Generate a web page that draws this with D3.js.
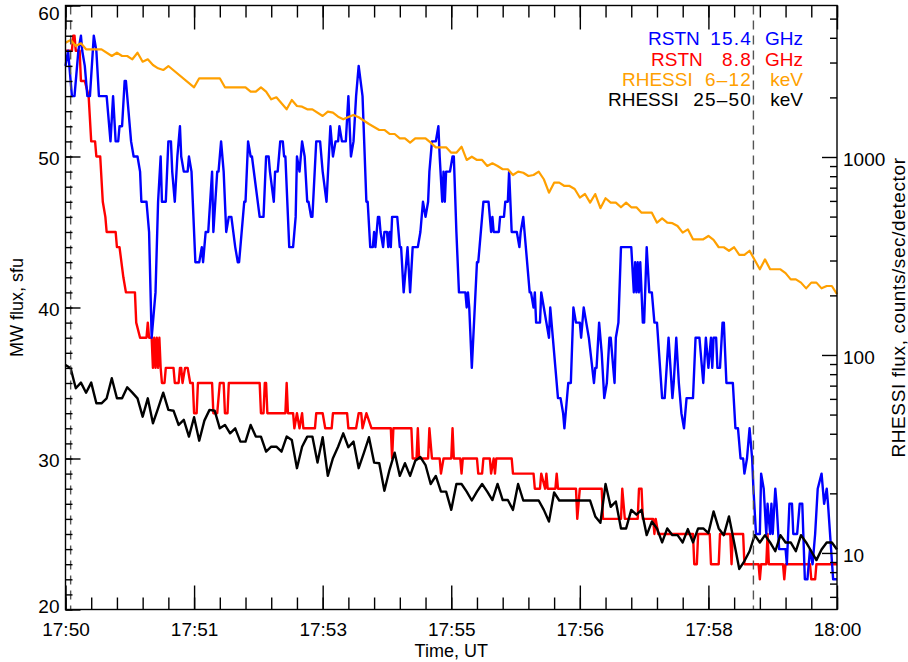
<!DOCTYPE html>
<html>
<head>
<meta charset="utf-8">
<script src="https://cdn.jsdelivr.net/npm/d3@7"></script>
<style>
  html, body { margin: 0; padding: 0; background: #fff; }
  text { font-family: "Liberation Sans", Arial, sans-serif; font-size: 19px; fill: #000; }
</style>
</head>
<body>
<svg id="chart" width="908" height="662"></svg>
<script>
// ---- Data: times are seconds after 17:50:00 UT ----

// RSTN 15.4 GHz (sfu)
const rstn154Time = [0,2,3,5,7,10,12,13,15,17,19,22,24,26,32,35,37,39,41,42,44,46,47,48,51,53,56,58,59,63,65,67,70,72,74,75,78,80,82,83,85,87,89,90,92,95,96,98,101,104,106,107,108,109,111,114,115,118,119,121,123,125,127,129,132,134,135,139,140,142,144,145,151,154,156,158,159,162,163,165,167,169,170,171,174,177,179,180,182,184,186,188,189,191,192,195,198,200,203,206,208,210,212,213,215,218,220,222,224,226,228,231,234,235,237,239,240,241,243,244,245,247,248,250,251,252,253,254,258,260,261,263,266,268,270,274,276,278,280,282,283,285,288,290,291,293,294,295,296,299,301,302,304,306,311,312,313,314,316,320,321,325,329,331,332,333,337,338,341,342,344,345,347,351,353,354,356,357,361,362,364,365,366,369,370,372,374,376,377,379,381,383,385,387,388,391,393,395,397,400,401,403,405,407,411,412,413,415,417,419,421,423,424,426,427,428,430,432,440,442,443,444,445,446,447,449,450,452,454,456,458,460,464,466,469,472,473,475,477,479,481,483,488,490,493,496,498,500,502,503,504,506,507,509,511,512,514,519,521,523,525,527,528,530,532,534,535,537,540,541,543,545,546,548,549,550,552,553,555,560,561,563,565,566,569,571,573,575,577,579,581,583,585,588,590,592,593,597,600];
const rstn154Flux = [56,57,56,54,54,57,58,57,56,54,54,58,57,54,54,51,54,51,51,52,52,55,55,54,51,50,50,49,47,47,45,38,41,47,50,47,47,51,51,49,47,50,52,50,49,49,50,49,43,43,44,43,44,45,45,49,45,49,49,51,49,45,46,46,44,43,43,47,47,51,50,50,46,46,50,50,49,47,49,49,51,51,50,50,44,44,46,50,49,51,50,47,47,46,46,51,51,49,47,52,50,51,51,52,51,51,54,50,51,54,56,54,47,47,44,44,45,44,46,46,45,44,45,45,44,45,44,46,46,44,44,41,44,41,44,44,45,47,46,47,49,51,51,52,50,47,49,47,49,49,50,50,45,41,41,40,41,40,36,43,43,47,47,45,46,45,45,46,46,47,47,49,45,45,44,45,46,45,41,41,40,41,39,39,41,40,39,38,40,38,36,34,34,33,32,35,35,40,39,39,38,40,39,38,35,36,36,39,37,34,35,38,38,36,35,38,39,44,44,41,43,41,43,41,43,39,39,44,41,41,39,39,34,34,38,34,35,38,35,33,32,34,34,38,38,35,38,36,38,36,38,38,36,36,39,39,35,35,32,32,30,30,29,30,32,30,28,25,25,29,28,25,27,25,27,25,28,27,24,24,23,27,27,25,25,27,27,22,22,24,23,25,28,29,27,28,27,22,22];

// RSTN 8.8 GHz (sfu)
const rstn88Time = [0,5,6,7,8,11,12,15,18,20,23,24,27,29,31,32,39,40,42,45,47,54,55,58,63,64,65,67,68,69,70,71,72,73,74,75,77,78,84,85,88,89,90,91,93,95,97,99,100,102,103,114,115,118,120,123,124,126,127,151,152,154,155,156,157,171,172,173,177,178,180,182,184,185,194,195,200,202,207,208,219,220,226,228,230,231,234,238,253,254,255,269,270,273,274,275,282,283,285,291,292,294,300,301,302,307,308,309,320,321,324,325,330,331,333,334,335,347,348,364,365,369,370,373,374,375,381,382,383,397,398,400,417,418,432,433,435,445,446,448,449,457,458,459,461,488,489,491,492,501,502,508,509,517,518,519,527,528,539,540,541,545,546,547,558,559,560,579,580,583,584,600];
const rstn88Flux = [57,57,58,58,57,57,55,55,54,51,51,50,50,47,46,45,45,44,44,42,41,41,39,38,38,39,38,38,36,38,36,38,36,38,36,35,35,36,36,35,35,36,36,35,36,36,35,35,33,33,35,35,33,33,35,35,33,33,35,35,33,33,35,35,33,33,35,33,33,32,33,32,33,32,32,33,33,32,32,33,33,32,32,33,33,32,33,32,32,30,32,32,30,30,32,30,30,32,30,30,29,30,30,32,30,30,29,30,30,29,29,30,30,29,30,29,30,30,29,29,28,28,29,28,29,28,28,29,28,28,26,28,28,26,26,28,26,26,28,28,26,26,25,26,25,25,23,23,25,25,23,23,25,25,23,25,25,23,23,22,23,23,25,23,23,22,23,23,22,22,23,23];

// RHESSI 6-12 keV (counts/sec/detector), 4 s bins; turning points only
const rhessiLoTime = [0,4,8,12,16,28,36,40,44,48,52,56,60,64,68,72,76,80,100,104,120,124,140,144,148,152,156,160,164,172,176,180,184,188,192,200,204,208,212,216,220,224,228,236,244,248,252,256,260,264,268,272,280,284,288,296,300,304,308,312,316,320,324,328,332,336,340,344,348,352,356,360,364,368,372,376,380,384,388,392,396,400,404,408,412,416,420,424,428,432,436,440,444,448,456,460,464,468,472,476,480,484,488,496,500,504,508,512,516,520,524,528,532,536,540,544,548,556,560,564,568,572,576,580,584,588,592,596,600];
const rhessiLoCounts = [3778,3898,3636,3752,3499,3499,3237,3363,3237,3237,3115,3363,3029,3115,2915,2805,2750,2881,2249,2497,2497,2249,2249,2137,2137,2249,2137,1956,2002,1741,1940,1810,1795,1741,1741,1611,1694,1674,1598,1550,1592,1630,1587,1468,1369,1369,1307,1307,1243,1243,1181,1243,1243,1181,1119,1119,1051,1051,1127,966,1003,966,966,901,929,901,867,867,811,843,833,802,811,843,772,660,742,742,714,714,689,624,650,588,650,551,619,588,588,557,588,557,557,523,523,466,490,466,463,448,415,431,384,384,399,381,350,350,336,350,320,320,336,302,271,304,271,271,259,241,241,232,217,232,232,217,223,223,203];

// RHESSI 25-50 keV (counts/sec/detector), consecutive 4 s bins from 17:50:00
const rhessiHiCounts = [89.0,85.7,67.9,72.5,64.5,72.5,57.0,57.0,60.4,76.3,60.4,60.4,68.7,64.5,60.4,48.8,60.4,45.2,53.8,64.5,52.8,52.3,44.3,47.0,38.7,48.5,36.9,46.6,52.8,52.3,42.6,44.3,40.2,42.6,36.5,36.5,44.3,38.7,38.7,32.5,34.4,34.4,32.5,38.7,37.2,26.8,34.4,38.7,38.7,28.6,38.4,24.5,30.1,34.4,40.2,34.2,36.5,26.8,31.9,38.4,28.6,28.4,20.6,26.3,32.1,24.5,28.4,24.5,29.2,30.5,27.8,22.3,24.5,20.4,20.4,16.5,22.3,22.3,20.4,18.4,20.4,22.3,20.4,18.5,22.3,18.5,18.5,16.5,22.3,18.4,18.4,18.4,18.4,16.5,14.4,20.2,18.4,18.4,18.4,18.4,18.4,18.4,18.4,15.3,14.2,22.3,17.1,18.2,13.3,13.3,16.5,15.6,16.5,12.3,14.4,13.3,11.3,13.3,12.3,12.3,11.3,13.2,11.3,13.3,13.3,12.6,16.2,13.3,12.3,15.3,11.3,8.3,9.1,10.2,12.3,11.3,12.3,11.3,10.2,12.3,11.3,11.3,10.2,12.3,11.3,10.2,9.2,10.4,11.3,11.3,10.4];
const rhessiHiStep = 4;

// Dashed time markers (s after 17:50:00)
const markerTimes = [4, 535];

// Axis ticks
const timeMajor = [0, 100, 200, 300, 400, 500, 600];
const timeMinor = d3.range(0, 601, 20);
const fluxMajor = [20, 30, 40, 50, 60];
const fluxMinor = d3.range(20, 61, 1);
const countsMajor = [10, 100, 1000];
const countsMinor = [6,7,8,9,20,30,40,50,60,70,80,90,200,300,400,500,600,700,800,900,2000,3000,4000,5000];

const legendLabels = ["RSTN 15.4 GHz", "RSTN 8.8 GHz", "RHESSI 6\u201312 keV", "RHESSI 25\u201350 keV"];
const legendColors = ["#0000ff", "#ff0000", "#ffa000", "#000000"];

// ---- Layout ----
const plotLeft = 65.5, plotRight = 837, plotTop = 5.5, plotBottom = 609.5;
const startSec = 17 * 3600 + 50 * 60;
const fontFamily = '"Liberation Sans", Arial, sans-serif';

const svg = d3.select("#chart");

const x = d3.scaleLinear().domain([0, 600]).range([plotLeft, plotRight]);
const yFlux = d3.scaleLinear().domain([20, 60]).range([plotBottom, plotTop]);
const yCounts = d3.scaleLog().domain([5.18, 5824]).range([plotBottom, plotTop]);

const fmtTime = s => {
  const t = startSec + s;
  const h = Math.floor(t / 3600) % 24;
  const m = Math.floor((t % 3600) / 60);
  return h + ":" + String(m).padStart(2, "0");
};

function styleAxis(g) {
  g.select(".domain").remove();
  g.selectAll(".tick line").attr("stroke", "#000").attr("stroke-width", 1.4);
  g.selectAll(".tick text").attr("fill", "#000").style("font-size", "19px")
    .style("font-family", fontFamily);
}

// ---- Series ----
const line = d3.line();

const series = [
  { t: rstn88Time, v: rstn88Flux, y: yFlux, color: "#ff0000", w: 2.4 },
  { t: rstn154Time, v: rstn154Flux, y: yFlux, color: "#0000ff", w: 2.4 },
  { t: rhessiLoTime, v: rhessiLoCounts, y: yCounts, color: "#ffa000", w: 2.2 },
  { t: rhessiHiCounts.map((_, i) => i * rhessiHiStep), v: rhessiHiCounts, y: yCounts, color: "#000000", w: 2.4 }
];

series.forEach(s => {
  const n = Math.min(s.t.length, s.v.length);
  const pts = d3.range(n).map(i => [x(s.t[i]), s.y(s.v[i])]);
  svg.append("path")
    .attr("d", line(pts))
    .attr("fill", "none")
    .attr("stroke", s.color)
    .attr("stroke-width", s.w)
    .attr("stroke-linejoin", "round");
});

// ---- Time markers ----
svg.append("g").selectAll("line").data(markerTimes).join("line")
  .attr("x1", d => x(d)).attr("x2", d => x(d))
  .attr("y1", plotTop).attr("y2", plotBottom)
  .attr("stroke", "#555").attr("stroke-width", 1.4)
  .attr("stroke-dasharray", "9,6");

// ---- Axes ----
// bottom
svg.append("g").attr("transform", `translate(0,${plotBottom})`)
  .call(d3.axisBottom(x).tickValues(timeMinor).tickSize(-12).tickFormat(""))
  .call(styleAxis);
svg.append("g").attr("transform", `translate(0,${plotBottom})`)
  .call(d3.axisBottom(x).tickValues(timeMajor).tickSize(-24).tickPadding(13).tickFormat(fmtTime))
  .call(styleAxis);
// top
svg.append("g").attr("transform", `translate(0,${plotTop})`)
  .call(d3.axisTop(x).tickValues(timeMinor).tickSize(-12).tickFormat(""))
  .call(styleAxis);
svg.append("g").attr("transform", `translate(0,${plotTop})`)
  .call(d3.axisTop(x).tickValues(timeMajor).tickSize(-24).tickFormat(""))
  .call(styleAxis);
// left
svg.append("g").attr("transform", `translate(${plotLeft},0)`)
  .call(d3.axisLeft(yFlux).tickValues(fluxMinor).tickSize(-7).tickFormat(""))
  .call(styleAxis);
svg.append("g").attr("transform", `translate(${plotLeft},0)`)
  .call(d3.axisLeft(yFlux).tickValues(fluxMajor).tickSize(-15).tickPadding(6).tickFormat(d3.format("d")))
  .call(styleAxis)
  .call(g => g.selectAll(".tick text")
    .attr("dy", "0.35em")
    .attr("y", d => d === 60 ? 7 : d === 20 ? -3.5 : 1.5));
// right
svg.append("g").attr("transform", `translate(${plotRight},0)`)
  .call(d3.axisRight(yCounts).tickValues(countsMinor).tickSize(-7).tickFormat(""))
  .call(styleAxis);
svg.append("g").attr("transform", `translate(${plotRight},0)`)
  .call(d3.axisRight(yCounts).tickValues(countsMajor).tickSize(-15).tickPadding(6).tickFormat(d3.format("d")))
  .call(styleAxis)
  .call(g => g.selectAll(".tick text").attr("dy", "0.35em").attr("y", 2));

// frame
svg.append("rect")
  .attr("x", plotLeft).attr("y", plotTop)
  .attr("width", plotRight - plotLeft).attr("height", plotBottom - plotTop)
  .attr("fill", "none").attr("stroke", "#000").attr("stroke-width", 1.4);

// ---- Axis titles ----
svg.append("text").attr("x", (plotLeft + plotRight) / 2).attr("y", 656.5)
  .attr("text-anchor", "middle").style("font-size", "18px").text("Time, UT");
svg.append("text").attr("transform", `translate(23,${(plotTop + plotBottom) / 2}) rotate(-90)`)
  .attr("text-anchor", "middle").style("font-size", "18px").text("MW flux, sfu");
svg.append("text").attr("transform", `translate(905,${(plotTop + plotBottom) / 2}) rotate(-90)`)
  .attr("text-anchor", "middle").style("letter-spacing", "0.6px")
  .text("RHESSI flux, counts/sec/detector");

// ---- Legend: name, band and unit set in columns ----
const legendBaseline = [45, 65.5, 85.5, 106];
const legendNameX = [648, 651, 622, 608];
const legendBandEndX = 752, legendUnitEndX = 803;

const legendRow = svg.append("g").selectAll("g").data(legendLabels).join("g")
  .style("fill", (d, i) => legendColors[i]);
legendRow.each(function (d, i) {
  const [name, band, unit] = d.split(" ");
  const g = d3.select(this);
  g.append("text").attr("x", legendNameX[i]).attr("y", legendBaseline[i])
    .style("fill", legendColors[i]).text(name);
  g.append("text").attr("x", legendBandEndX).attr("y", legendBaseline[i])
    .attr("text-anchor", "end").style("letter-spacing", "1.2px")
    .style("fill", legendColors[i]).text(band);
  g.append("text").attr("x", legendUnitEndX).attr("y", legendBaseline[i])
    .attr("text-anchor", "end")
    .style("fill", legendColors[i]).text(unit);
});
</script>
</body>
</html>
